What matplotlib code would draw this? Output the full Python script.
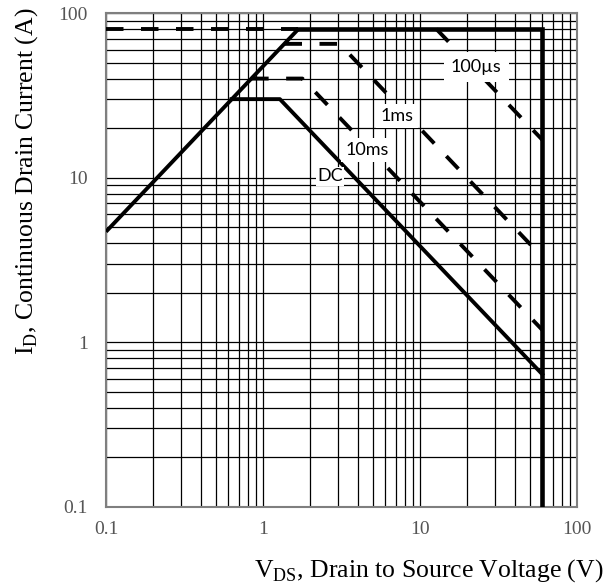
import numpy as np
import matplotlib.pyplot as plt
from matplotlib.ticker import LogLocator, FixedLocator, NullFormatter

# Safe operating area data (V in volts, I in amps)
rds_v = [0.1, 1.68]
rds_i = [4.7, 80]

idm_dash_v = [0.1, 1.68]
idm_dash_i = [80, 80]

limit_v = [1.68, 60, 60]
limit_i = [80, 80, 0.1]

dc_v = [0.63, 1.28, 60]
dc_i = [30, 30, 0.64]

ms10_v = [0.84, 1.78, 60]
ms10_i = [40, 40, 1.19]

ms1_v = [1.37, 3.07, 60]
ms1_i = [65, 65, 3.3]

us100_v = [12.7, 60]
us100_i = [80, 17]

x_ticks = [0.1, 1, 10, 100]
x_tick_labels = ["0.1", "1", "10", "100"]
y_ticks = [0.1, 1, 10, 100]
y_tick_labels = ["0.1", "1", "10", "100"]

fig = plt.figure(figsize=(6.11, 5.88), dpi=100)
ax = fig.add_axes([0.1735, 0.1378, 0.771, 0.840])
ax.set_xscale("log")
ax.set_yscale("log")
ax.set_xlim(0.1, 100)
ax.set_ylim(0.1, 100)

# grid
ax.xaxis.set_major_locator(FixedLocator(x_ticks))
ax.yaxis.set_major_locator(FixedLocator(y_ticks))
ax.xaxis.set_minor_locator(LogLocator(base=10, subs=np.arange(2, 10)))
ax.yaxis.set_minor_locator(LogLocator(base=10, subs=np.arange(2, 10)))
ax.xaxis.set_minor_formatter(NullFormatter())
ax.yaxis.set_minor_formatter(NullFormatter())
ax.grid(True, which="both", color="black", linewidth=0.9)
ax.set_axisbelow(True)

ax.set_xticklabels(x_tick_labels)
ax.set_yticklabels(y_tick_labels)
ax.tick_params(which="both", length=0)
ax.tick_params(axis="x", pad=10)
ax.tick_params(axis="y", pad=13)
for lab in ax.get_xticklabels() + ax.get_yticklabels():
    lab.set_fontfamily("Liberation Serif")
    lab.set_fontsize(14)
    lab.set_color("#555555")

for sp in ax.spines.values():
    sp.set_color("#7f7f7f")
    sp.set_linewidth(1.5)

lw = 2.8
dash = (0, (4.5, 4.5))
ax.plot(rds_v, rds_i, color="black", lw=lw, solid_capstyle="butt", zorder=3)
ax.plot(idm_dash_v, idm_dash_i, color="black", lw=lw, linestyle=dash, zorder=3)
ax.plot(limit_v, limit_i, color="black", lw=lw + 0.5, solid_joinstyle="miter", zorder=3)
ax.plot(dc_v, dc_i, color="black", lw=lw, zorder=3)
ax.plot(ms10_v, ms10_i, color="black", lw=lw, linestyle=dash, zorder=3)
ax.plot(ms1_v, ms1_i, color="black", lw=lw, linestyle=dash, zorder=3)
ax.plot(us100_v, us100_i, color="black", lw=lw, linestyle=dash, zorder=3)

# curve labels on white boxes
box = dict(facecolor="white", edgecolor="none", pad=3)
lab_font = dict(fontfamily="Lato", fontsize=13, ha="center", va="center", zorder=4)
ax.text(22.8, 47.0, "100µs", bbox=dict(facecolor="white", edgecolor="none", pad=5), **lab_font)
ax.text(7.14, 23.7, "1ms", bbox=box, **lab_font)
ax.text(4.59, 14.7, "10ms", bbox=box, **lab_font)
ax.text(2.67, 10.2, "DC", bbox=dict(facecolor="white", edgecolor="none", pad=1), **lab_font)

fig.text(0.987, 0.0187, r"V$_{\mathregular{DS}}$, Drain to Source Voltage (V)",
         fontfamily="Liberation Serif", fontsize=18.5, ha="right", va="baseline")
fig.text(0.054, 0.692, r"I$_{\mathregular{D}}$, Continuous Drain Current (A)",
         fontfamily="Liberation Serif", fontsize=18.5, rotation=90,
         rotation_mode="anchor", ha="center", va="baseline")

fig.savefig("out.png", dpi=100)
